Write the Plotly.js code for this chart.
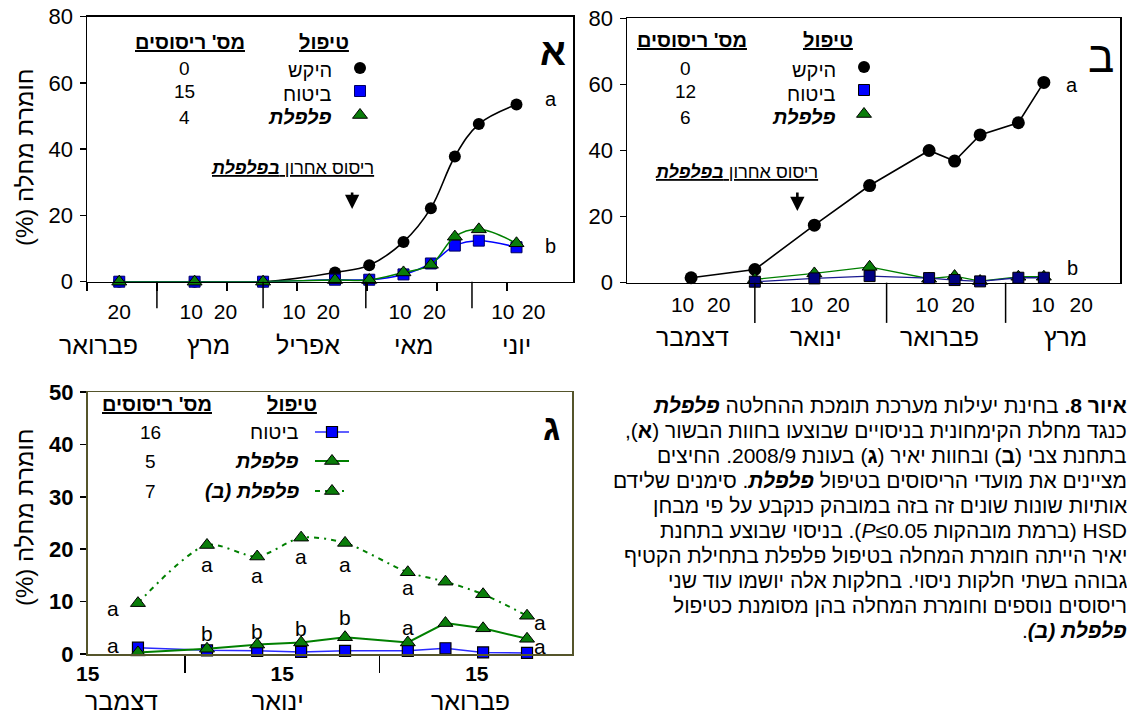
<!DOCTYPE html>
<html><head><meta charset="utf-8">
<script src="https://cdn.plot.ly/plotly-3.0.1.min.js"></script>
<style>body{margin:0;background:#fff}#chart{width:1127px;height:715px}</style>
</head><body><div id="chart"></div>
<script>
// ---------- Panel א (Besor farm, 2009) ----------
const aDates    = ['2009-02-18','2009-03-12','2009-04-01','2009-04-22','2009-05-02','2009-05-12','2009-05-20','2009-05-27','2009-06-03','2009-06-14'];
const aControl  = [0, 0, 0, 2.8, 5.0, 12.0, 22.2, 37.8, 47.6, 53.5];
const aBituach  = [0, 0, 0, 0.6, 0.6, 2.2, 5.5, 10.9, 12.4, 10.4];
const aPilpelet = [0, 0, 0, 0.5, 0.5, 2.8, 5.1, 13.6, 15.8, 11.6];
const aSprays   = ['0', '15', '4'];
const aTickDates = ['2009-02-18','2009-03-11','2009-03-21','2009-04-10','2009-04-20','2009-05-11','2009-05-21','2009-06-10','2009-06-19'];
const aTickText  = ['20','10','20','10','20','10','20','10','20'];
const aMonths    = ['פברואר','מרץ','אפריל','מאי','יוני'];
const aMonthMid  = ['2009-02-12','2009-03-16','2009-04-14','2009-05-15','2009-06-14'];
const aMonthStart = ['2009-03-01','2009-04-01','2009-05-01','2009-06-01'];
const aLastSpray = '2009-04-27';
const aLetters = ['a','b'], aLetterDate = '2009-06-24', aLetterY = [55.2, 10.8];

// ---------- Panel ב (Tzvi station, 2008/9) ----------
const bDates    = ['2008-12-17','2009-01-01','2009-01-15','2009-01-28','2009-02-11','2009-02-17','2009-02-23','2009-03-04','2009-03-10'];
const bControl  = [1.5, 4.0, 17.4, 29.4, 40.0, 36.8, 44.7, 48.4, 60.6];
const bBituach  = [null, 0.3, 1.3, 2.0, 1.4, 0.8, 0.4, 1.5, 1.5];
const bPilpelet = [null, 1.0, 2.8, 4.8, 1.2, 2.0, 0.5, 1.8, 1.8];
const bSprays   = ['0', '12', '6'];
const bTickDates = ['2008-12-15','2008-12-23 12:00','2009-01-12','2009-01-20 14:00','2009-02-10 12:00','2009-02-19','2009-03-09 19:00','2009-03-18 19:00'];
const bTickText  = ['10','20','10','20','10','20','10','20'];
const bMonths    = ['דצמבר','ינואר','פברואר','מרץ'];
const bMonthMid  = ['2008-12-17 10:00','2009-01-15 10:00','2009-02-13 08:00','2009-03-15 05:00'];
const bMonthStart = ['2009-01-01','2009-02-01','2009-03-01'];
const bLastSpray = '2009-01-11';
const bLetters = ['a','b'], bLetterDate = '2009-03-16 16:00', bLetterY = [59.8, 4.4];

// ---------- Panel ג (Yair farm, 2008/9) ----------
const cDates     = ['2008-12-23','2009-01-03','2009-01-11','2009-01-18','2009-01-25','2009-02-04','2009-02-10','2009-02-16','2009-02-23'];
const cBituach   = [1.2, 0.7, 0.6, 0.4, 0.6, 0.6, 1.1, 0.3, 0.2];
const cPilpelet  = [0.3, 1.0, 1.8, 2.2, 3.2, 2.2, 5.9, 4.9, 2.9];
const cPilpeletB = [9.7, 20.8, 18.6, 22.2, 21.2, 15.6, 13.8, 11.4, 7.3];
const cSprays    = ['16', '5', '7'];
const cTickDates = ['2008-12-15','2009-01-15','2009-02-15'];
const cTickText  = ['15','15','15'];
const cMonths    = ['דצמבר','ינואר','פברואר'];
const cMonthMid  = ['2008-12-20 10:00','2009-01-14 08:00','2009-02-13 22:00'];
const cLetterDates = ['2008-12-19','2008-12-19','2009-01-03','2009-01-03','2009-01-11','2009-01-11','2009-01-18','2009-01-18','2009-01-25','2009-01-25','2009-02-04','2009-02-04','2009-02-25','2009-02-25'];
const cLetterY     = [8.6, 1.7, 17.0, 4.0, 14.9, 4.3, 18.6, 4.8, 17.0, 6.9, 12.7, 5.1, 6.0, 1.4];
const cLetters     = ['a','a','a','b','a','b','a','b','a','b','a','a','a','a'];

// ---------- texts ----------
const yTitle = 'חומרת מחלה (%)';
const hdrSprays = "מס' ריסוסים", hdrTreat = 'טיפול';
const tControl = 'היקש', tBituach = 'ביטוח', tPilpelet = 'פלפלת', tPilpeletB = 'פלפלת (ב)';
const arrowText = 'ריסוס אחרון ';
const captionLines = [
  '<b>איור 8.</b> בחינת יעילות מערכת תומכת ההחלטה <b><i>פלפלת</i></b>',
  'כנגד מחלת הקימחונית בניסויים שבוצעו בחוות הבשור (<b>א</b>),',
  'בתחנת צבי (<b>ב</b>) ובחוות יאיר (<b>ג</b>) בעונת 2008/9. החיצים',
  'מציינים את מועדי הריסוסים בטיפול <b><i>פלפלת</i></b>. סימנים שלידם',
  'אותיות שונות שונים זה בזה במובהק כנקבע על פי מבחן',
  'HSD (ברמת מובהקות <i>P</i>≤0.05). בניסוי שבוצע בתחנת',
  'יאיר הייתה חומרת המחלה בטיפול פלפלת בתחילת הקטיף',
  'גבוהה בשתי חלקות ניסוי. בחלקות אלה יושמו עוד שני',
  'ריסוסים נוספים וחומרת המחלה בהן מסומנת כטיפול',
  '<b><i>פלפלת (ב)</i></b>.'
];

// ---------- helpers ----------
const W = 1127, H = 715;
const FONT = 'Liberation Sans, Arial, DejaVu Sans, sans-serif';
const rtl = s => '\u202B' + s + '\u202C';
const u = s => '<span style="text-decoration:underline">' + s + '</span>';
const bi = s => '<b><i>' + s + '</i></b>';
const dx = (a, b) => [a / W, b / W];
const dy = (top, bottom) => [1 - bottom / H, 1 - top / H];
const DAY = 864e5;

const GREEN = '#008000', GFILL = '#0a7d0a';
const triM = (sz) => ({symbol: 'triangle-up', size: sz, color: GFILL, line: {color: '#000', width: 1}});

const traces = [];
// Panel A
traces.push({x: aDates, y: aControl, xaxis: 'x', yaxis: 'y', mode: 'lines+markers', cliponaxis: false,
  line: {color: '#000', width: 1.6, shape: 'spline', smoothing: 1},
  marker: {symbol: 'circle', size: 12, color: '#000'}});
traces.push({x: aDates, y: aBituach, xaxis: 'x', yaxis: 'y', mode: 'lines+markers', cliponaxis: false,
  line: {color: '#0000ff', width: 1.5, shape: 'spline', smoothing: 1},
  marker: {symbol: 'square', size: 11, color: '#0000ff', line: {color: '#000060', width: 1}}});
traces.push({x: aDates, y: aPilpelet, xaxis: 'x', yaxis: 'y', mode: 'lines+markers', cliponaxis: false,
  line: {color: GREEN, width: 1.5, shape: 'spline', smoothing: 1}, marker: triM(13)});
// Panel B
traces.push({x: bDates, y: bControl, xaxis: 'x2', yaxis: 'y2', mode: 'lines+markers', cliponaxis: false,
  line: {color: '#000', width: 1.6}, marker: {symbol: 'circle', size: 13, color: '#000'}});
traces.push({x: bDates, y: bPilpelet, xaxis: 'x2', yaxis: 'y2', mode: 'lines+markers', cliponaxis: false,
  line: {color: GREEN, width: 1.3}, marker: triM(13)});
traces.push({x: bDates, y: bBituach, xaxis: 'x2', yaxis: 'y2', mode: 'lines+markers', cliponaxis: false,
  line: {color: '#1a1a90', width: 1.3}, marker: {symbol: 'square', size: 11, color: '#000080', line: {color: '#000', width: 1}}});
// Panel C
traces.push({x: cDates, y: cBituach, xaxis: 'x3', yaxis: 'y3', mode: 'lines+markers', cliponaxis: false,
  line: {color: '#2a2aff', width: 1.5}, marker: {symbol: 'square', size: 11, color: '#0000ff', line: {color: '#000', width: 1.2}}});
traces.push({x: cDates, y: cPilpelet, xaxis: 'x3', yaxis: 'y3', mode: 'lines+markers', cliponaxis: false,
  line: {color: GREEN, width: 2}, marker: triM(13)});
traces.push({x: cDates, y: cPilpeletB, xaxis: 'x3', yaxis: 'y3', mode: 'lines+markers', cliponaxis: false,
  line: {color: GREEN, width: 2, dash: '5px,5px,2px,5px', shape: 'spline', smoothing: 0.8}, marker: triM(13)});

// Legend keys (drawn on a full-page pixel overlay axis)
const keyPos = {
  a: {x: 360, y: [68, 91, 115]},
  b: {x: 864, y: [67, 90, 114]},
  c: {x0: 315, x1: 349, xm: 332, y: [432, 461, 491]}
};
traces.push({x: [keyPos.a.x], y: [keyPos.a.y[0]], xaxis: 'x4', yaxis: 'y4', mode: 'markers', marker: {symbol: 'circle', size: 12, color: '#000'}});
traces.push({x: [keyPos.a.x], y: [keyPos.a.y[1]], xaxis: 'x4', yaxis: 'y4', mode: 'markers', marker: {symbol: 'square', size: 11, color: '#0000ff', line: {color: '#000060', width: 1}}});
traces.push({x: [keyPos.a.x], y: [keyPos.a.y[2]], xaxis: 'x4', yaxis: 'y4', mode: 'markers', marker: triM(13)});
traces.push({x: [keyPos.b.x], y: [keyPos.b.y[0]], xaxis: 'x4', yaxis: 'y4', mode: 'markers', marker: {symbol: 'circle', size: 12, color: '#000'}});
traces.push({x: [keyPos.b.x], y: [keyPos.b.y[1]], xaxis: 'x4', yaxis: 'y4', mode: 'markers', marker: {symbol: 'square', size: 11, color: '#0000ff', line: {color: '#000', width: 1}}});
traces.push({x: [keyPos.b.x], y: [keyPos.b.y[2]], xaxis: 'x4', yaxis: 'y4', mode: 'markers', marker: triM(13)});
const cKeyStyles = [
  {line: {color: '#2a2aff', width: 1.5}, marker: {symbol: 'square', size: 11, color: '#0000ff', line: {color: '#000', width: 1.2}}},
  {line: {color: GREEN, width: 2}, marker: triM(13)},
  {line: {color: GREEN, width: 2, dash: '5px,5px,2px,5px'}, marker: triM(13)}
];
cKeyStyles.forEach((st, i) => {
  traces.push({x: [keyPos.c.x0, keyPos.c.xm, keyPos.c.x1], y: [keyPos.c.y[i], keyPos.c.y[i], keyPos.c.y[i]],
    xaxis: 'x4', yaxis: 'y4', mode: 'lines+markers', line: st.line,
    marker: Object.assign({}, st.marker, {opacity: [0, 1, 0]})});
});

// ---------- annotations ----------
const ann = [];
const f = (size, extra = {}) => Object.assign({family: FONT, size, color: '#000'}, extra);
const txt = (x, y, text, o = {}) => Object.assign({xref: 'x4', yref: 'y4', x, y, text, showarrow: false,
  font: f(18), xanchor: 'center', yanchor: 'middle'}, o);

function legendBlock(hdrSpX, hdrTrX, hdrY, valX, valYs, nameX, nameYs, names, vals) {
  ann.push(txt(hdrSpX, hdrY, rtl(u('<b>' + hdrSprays + '</b>')), {font: f(20)}));
  ann.push(txt(hdrTrX, hdrY, rtl(u('<b>' + hdrTreat + '</b>')), {font: f(20)}));
  vals.forEach((v, i) => ann.push(txt(valX, valYs[i], v, {font: f(19)})));
  names.forEach((n, i) => ann.push(txt(nameX, nameYs[i], rtl(n), {font: f(20), xanchor: 'right'})));
}
legendBlock(190, 324, 42, 184, [68, 91, 117], 334, [70, 94, 117], [tControl, tBituach, bi(tPilpelet)], aSprays);
legendBlock(692, 828, 40, 685, [68, 91, 117], 838, [70, 94, 117], [tControl, tBituach, bi(tPilpelet)], bSprays);
legendBlock(157, 292, 404, 150, [432, 461, 491], 301, [432, 461, 491], [tBituach, bi(tPilpelet), bi(tPilpeletB)], cSprays);

// panel letters
ann.push(txt(553, 52, '<b>א</b>', {font: f(38)}));
ann.push(txt(1101, 56, 'ב', {font: f(44)}));
ann.push(txt(551, 427, '<b>ג</b>', {font: f(36)}));

// y titles
[157, 517].forEach(y => ann.push(txt(24, y, rtl(yTitle), {font: f(24), textangle: -90})));

// last-spray annotation text + arrows
ann.push(txt(292, 168, rtl(u(arrowText + bi('בפלפלת'))), {font: f(18)}));
ann.push(txt(736, 172, rtl(u(arrowText + bi('בפלפלת'))), {font: f(18)}));
ann.push({xref: 'x', yref: 'y4', x: aLastSpray, y: 209, text: '', showarrow: true, ax: 0, ay: -18,
  arrowhead: 2, arrowsize: 1.1, arrowwidth: 2.6, arrowcolor: '#000', standoff: 0});
ann.push({xref: 'x2', yref: 'y4', x: bLastSpray, y: 211, text: '', showarrow: true, ax: 0, ay: -20,
  arrowhead: 2, arrowsize: 1.1, arrowwidth: 2.6, arrowcolor: '#000', standoff: 0});

// significance letters
aLetters.forEach((l, i) => ann.push({xref: 'x', yref: 'y', x: aLetterDate, y: aLetterY[i], text: l, showarrow: false, font: f(20)}));
bLetters.forEach((l, i) => ann.push({xref: 'x2', yref: 'y2', x: bLetterDate, y: bLetterY[i], text: l, showarrow: false, font: f(20)}));
cLetters.forEach((l, i) => ann.push({xref: 'x3', yref: 'y3', x: cLetterDates[i], y: cLetterY[i], text: l, showarrow: false, font: f(21)}));

// month labels
aMonths.forEach((m, i) => ann.push({xref: 'x', yref: 'y4', x: aMonthMid[i], y: 345, text: m, showarrow: false, font: f(25)}));
bMonths.forEach((m, i) => ann.push({xref: 'x2', yref: 'y4', x: bMonthMid[i], y: 337, text: m, showarrow: false, font: f(25)}));
cMonths.forEach((m, i) => ann.push({xref: 'x3', yref: 'y4', x: cMonthMid[i], y: 701, text: m, showarrow: false, font: f(25)}));

// caption
captionLines.forEach((l, i) => ann.push(txt(W - 1, 405 + 25 * i, rtl(l), {font: f(21), xanchor: 'right', xshift: 3})));

// ---------- shapes (month separators under the date axes) ----------
const shapes = [];
aMonthStart.forEach(d => shapes.push({type: 'line', xref: 'x', yref: 'y domain', x0: d, x1: d, y0: 0, y1: -0.1, line: {color: '#000', width: 1.5}}));
bMonthStart.forEach(d => shapes.push({type: 'line', xref: 'x2', yref: 'y2 domain', x0: d, x1: d, y0: 0, y1: -0.152, line: {color: '#000', width: 1.5}}));

// ---------- axes ----------
const xBase = {type: 'date', showgrid: false, zeroline: false, showline: true, mirror: true, linecolor: '#000', linewidth: 1.5,
  ticks: '', tickmode: 'array', tickfont: f(21)};
const yBase = {showgrid: false, zeroline: false, showline: true, mirror: true, linecolor: '#000', linewidth: 1.5,
  ticks: 'outside', ticklen: 6, tickwidth: 1.5, tickcolor: '#000', tickmode: 'array', tickfont: f(22), ticklabelstandoff: 2};

const layout = {
  width: W, height: H, margin: {l: 0, r: 0, t: 0, b: 0},
  paper_bgcolor: '#fff', plot_bgcolor: 'rgba(0,0,0,0)', showlegend: false,
  font: {family: FONT, color: '#000'},
  xaxis: Object.assign({}, xBase, {domain: dx(87, 573), anchor: 'y', range: ['2009-02-08 14:00', '2009-06-30 12:00'],
    tickvals: aTickDates, ticktext: aTickText, ticklabelstandoff: 11,
    minor: {tickmode: 'linear', tick0: '2009-02-08 14:00', dtick: 20.44 * DAY, ticks: 'outside', ticklen: 8, tickwidth: 1.5, tickcolor: '#000', showgrid: false}}),
  yaxis: Object.assign({}, yBase, {domain: dy(16.7, 281.7), anchor: 'x', range: [0, 80], tickvals: [0, 20, 40, 60, 80]}),
  xaxis2: Object.assign({}, xBase, {domain: dx(627, 1120), anchor: 'y2', range: ['2008-12-01 22:00', '2009-03-27 22:00'],
    tickvals: bTickDates, ticktext: bTickText, ticklabelstandoff: 3}),
  yaxis2: Object.assign({}, yBase, {domain: dy(18.3, 282.7), anchor: 'x2', range: [0, 80], tickvals: [0, 20, 40, 60, 80]}),
  xaxis3: Object.assign({}, xBase, {domain: dx(87.5, 572), anchor: 'y3', range: ['2008-12-14 23:00', '2009-03-02 04:00'],
    linecolor: '#55552b', tickvals: cTickDates, ticktext: cTickText, tickfont: f(21, {weight: 'bold'}), ticklabelstandoff: 0,
    minor: {tickmode: 'linear', tick0: '2008-12-30 12:00', dtick: 31 * DAY, ticks: 'outside', ticklen: 17, tickwidth: 1.5, tickcolor: '#000', showgrid: false}}),
  yaxis3: Object.assign({}, yBase, {domain: dy(392, 654), anchor: 'x3', range: [0, 50], tickvals: [0, 10, 20, 30, 40, 50],
    linecolor: '#55552b', tickfont: f(22, {weight: 'bold'})}),
  xaxis4: {domain: [0, 1], range: [0, W], visible: false, anchor: 'y4', fixedrange: true},
  yaxis4: {domain: [0, 1], range: [H, 0], visible: false, anchor: 'x4', fixedrange: true},
  annotations: ann, shapes: shapes
};

Plotly.newPlot('chart', traces, layout, {staticPlot: true, displayModeBar: false});
</script>
</body></html>
